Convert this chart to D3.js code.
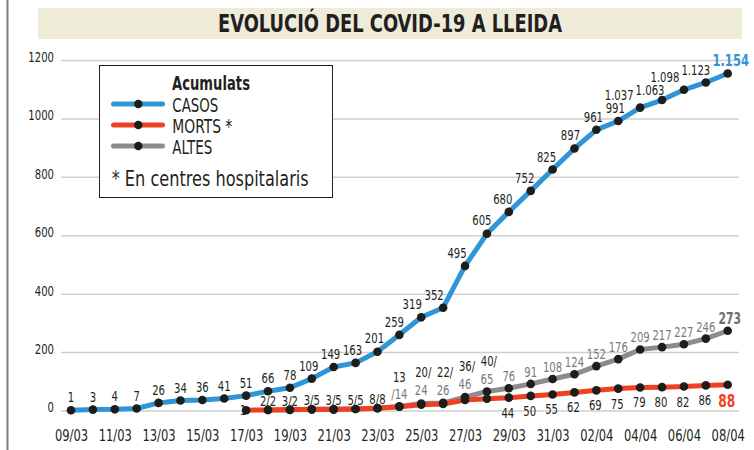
<!DOCTYPE html>
<meta charset="utf-8">
<style>
body { margin: 0; background: #fff; }
svg text {
  font-family: "Liberation Sans Narrow", "DejaVu Sans Condensed", "Arial Narrow", sans-serif;
  fill: #231f20;
}
.grid line { stroke: #cfcfcf; stroke-width: 1.5; }
.series { fill: none; stroke-width: 5; stroke-linejoin: round; stroke-linecap: round; }
</style>
<body>
<script src="https://cdn.jsdelivr.net/npm/d3@7"></script>
<script>

// dates 09/03 .. 08/04
var dates = ["09/03","10/03","11/03","12/03","13/03","14/03","15/03","16/03","17/03","18/03",
             "19/03","20/03","21/03","22/03","23/03","24/03","25/03","26/03","27/03","28/03",
             "29/03","30/03","31/03","01/04","02/04","03/04","04/04","05/04","06/04","07/04","08/04"];

var casos = [1, 3, 4, 7, 26, 34, 36, 41, 51, 66,
             78, 109, 149, 163, 201, 259, 319, 352, 495, 605,
             680, 752, 825, 897, 961, 991, 1037, 1063, 1098, 1123, 1154];

// morts (en centres hospitalaris), from 17/03
var morts = [null, null, null, null, null, null, null, null, 1, 2,
             3, 3, 3, 5, 8, 13, 20, 22, 36, 40,
             44, 50, 55, 62, 69, 75, 79, 80, 82, 86, 88];

// altes, from 18/03
var altes = [null, null, null, null, null, null, null, null, null, 2,
             2, 5, 5, 5, 8, 14, 24, 26, 46, 65,
             76, 91, 108, 124, 152, 176, 209, 217, 227, 246, 273];

var yTicks = [0, 200, 400, 600, 800, 1000, 1200];
var xTicks = dates.filter(function(d, i) { return i % 2 == 0; });

var title = "EVOLUCIÓ DEL COVID-19 A LLEIDA";
var legendTitle = "Acumulats";
var legendItems = ["CASOS", "MORTS *", "ALTES"];
var legendNote = "* En centres hospitalaris";

var colBlue = "#2f95d6", colRed = "#ee4124", colGray = "#8c8c8c",
    colDot = "#1d1d1b", colText = "#231f20", colGrayText = "#7a7a7a";

var width = 754, height = 450,
    squeeze = 0.8,   // the original uses a condensed face
    labelSize = 14;

var svg = d3.select("body").append("svg")
    .attr("width", width)
    .attr("height", height);

var x = d3.scalePoint().domain(dates).range([71, 727.7]);
var y = d3.scaleLinear().domain([0, 1200]).range([410.5, 60]);

var fmt = d3.formatLocale({decimal: ",", thousands: ".", grouping: [3], currency: ["", "€"]}).format(",d");

// left frame line
svg.append("line")
    .attr("x1", 7.5).attr("x2", 7.5).attr("y1", 0).attr("y2", height)
    .attr("stroke", "#7d7d7d").attr("stroke-width", 2);

// title banner
svg.append("rect")
    .attr("x", 38).attr("y", 8).attr("width", 704).attr("height", 31)
    .attr("fill", "#eeebd9");
svg.append("text")
    .attr("x", 390).attr("y", 32)
    .attr("text-anchor", "middle")
    .attr("font-weight", "bold")
    .attr("font-size", 24)
    .attr("textLength", 344)
    .attr("lengthAdjust", "spacingAndGlyphs")
    .text(title);

// y axis + grid
var yAxis = svg.append("g")
    .attr("class", "grid")
    .attr("transform", "translate(61,0)")
    .call(d3.axisLeft(y).tickValues(yTicks).tickSize(-(739 - 61)).tickPadding(7).tickFormat(d3.format("d")));
yAxis.select(".domain").remove();
yAxis.selectAll("text")
    .attr("y", -3)
    .attr("font-size", 14)
    .style("fill", colText);

// x axis
var xAxis = svg.append("g")
    .attr("transform", "translate(0,430)")
    .call(d3.axisBottom(x).tickValues(xTicks).tickSize(0).tickPadding(0));
xAxis.select(".domain").remove();
xAxis.selectAll("text")
    .attr("font-size", 16)
    .style("fill", colText);

// series
function points(vals) {
  return dates.map(function(d, i) { return {date: d, v: vals[i], i: i}; })
              .filter(function(p) { return p.v != null; });
}

var line = d3.line()
    .x(function(p) { return x(p.date); })
    .y(function(p) { return y(p.v); });

var series = [
  {name: "altes", vals: altes, color: colGray},
  {name: "morts", vals: morts, color: colRed},
  {name: "casos", vals: casos, color: colBlue}
];

svg.selectAll("path.series")
    .data(series)
  .enter().append("path")
    .attr("class", "series")
    .attr("stroke", function(s) { return s.color; })
    .attr("d", function(s) { return line(points(s.vals)); });

var labels = svg.append("g");
var dots = svg.append("g");

series.forEach(function(s) {
  dots.selectAll(null)
      .data(points(s.vals))
    .enter().append("circle")
      .attr("cx", function(p) { return x(p.date); })
      .attr("cy", function(p) { return y(p.v); })
      .attr("r", 4.3)
      .attr("fill", colDot);
});

// casos labels: nearest free spot above / left of the dot
var cpts = casos.map(function(v, i) { return [x(dates[i]), y(v)]; });
var placed = [];

function hits(b) {
  var m = 2.5;
  for (var k = 0; k < cpts.length - 1; k++) {
    var p = cpts[k], q = cpts[k + 1];
    if (Math.max(p[0], q[0]) < b.x0 - m || Math.min(p[0], q[0]) > b.x1 + m) continue;
    for (var s = 0; s <= 24; s++) {
      var xx = p[0] + (q[0] - p[0]) * s / 24, yy = p[1] + (q[1] - p[1]) * s / 24;
      var r = (s == 0 || s == 24) ? 4.5 : m;
      if (xx > b.x0 - r && xx < b.x1 + r && yy > b.y0 - r && yy < b.y1 + r) return true;
    }
  }
  for (var j = 0; j < placed.length; j++) {
    var o = placed[j];
    if (b.x0 < o.x1 + 2 && b.x1 > o.x0 - 2 && b.y0 < o.y1 + 3 && b.y1 > o.y0 - 3) return true;
  }
  return false;
}

var last = dates.length - 1;
var halfH = labelSize * 0.729 / 2;

// the final figure is highlighted and sits to the right
var lastLabel = labels.append("text")
    .attr("text-anchor", "middle")
    .attr("font-size", 16).attr("font-weight", "bold").style("fill", colBlue)
    .attr("x", cpts[last][0] + 3).attr("y", cpts[last][1] - 13 + 6)
    .text(fmt(casos[last]));
(function() {
  var w = lastLabel.node().getComputedTextLength() * squeeze;
  placed.push({x0: cpts[last][0] + 3 - w / 2, x1: cpts[last][0] + 3 + w / 2,
               y0: cpts[last][1] - 19, y1: cpts[last][1] - 7});
})();

// placed from the last point backwards, so the crowded top end gets first pick
d3.range(last - 1, -1, -1).forEach(function(i) {
  var v = casos[i];
  var px = cpts[i][0], py = cpts[i][1];
  var t = labels.append("text")
      .attr("text-anchor", "middle")
      .attr("font-size", labelSize)
      .text(fmt(v));
  var w = t.node().getComputedTextLength() * squeeze;
  var best = null, bestCost = Infinity;
  for (var dx = -Math.ceil(w / 2 + 14); dx <= 4; dx++) {
    for (var dy = -26; dy <= 0; dy++) {
      var cost = (dx < 0 ? -0.6 * dx : 1.5 * dx) + Math.abs(dy + 13);
      if (cost >= bestCost) continue;
      var b = {x0: px + dx - w / 2, x1: px + dx + w / 2, y0: py + dy - halfH, y1: py + dy + halfH};
      if (!hits(b)) { best = b; bestCost = cost; }
    }
  }
  if (!best) best = {x0: px - w / 2, x1: px + w / 2, y0: py - 13 - halfH, y1: py - 13 + halfH};
  placed.push(best);
  t.attr("x", (best.x0 + best.x1) / 2).attr("y", best.y1);
});

// morts / altes labels
dates.forEach(function(d, i) {
  var m = morts[i], a = altes[i];
  if (m == null) return;
  var px = x(d), pm = y(m);
  function txt(s, tx, ty) {
    return labels.append("text").attr("text-anchor", "middle").attr("font-size", labelSize)
        .attr("x", tx).attr("y", ty).text(s);
  }
  if (a == null) {
    // first death, tucked behind the dot
    txt(m, px - 3, pm + 5);
    return;
  }
  var pa = y(a);
  var top = Math.min(pm, pa);
  if (i < dates.indexOf("24/03")) {
    txt(m + "/" + a, px, top - 9 + 5);
  } else if (i == dates.indexOf("24/03")) {
    txt(m, px, top - 29 + 5);
    txt("/" + a, px, top - 12 + 5).style("fill", colGrayText);
  } else if (i < dates.indexOf("29/03")) {
    txt(m + "/", px + 2, top - 31 + 5);
    txt(a, px, top - 13 + 5).style("fill", colGrayText);
  } else {
    var ta = txt(a, px, pa - 12 + 5).style("fill", colGrayText);
    var tm = txt(m, px - 1, pm + 15 + 5);
    if (i == last) {
      ta.attr("font-weight", "bold").attr("font-size", 15).attr("x", px + 2).style("fill", "#6e6e6e");
      tm.attr("font-weight", "bold").attr("font-size", 17).style("fill", colRed).attr("y", pm + 16 + 6);
    }
  }
});

// legend
var lg = svg.append("g");
lg.append("rect")
    .attr("x", 99.5).attr("y", 65.5).attr("width", 233).attr("height", 132)
    .attr("fill", "#fff").attr("stroke", colText).attr("stroke-width", 1);
lg.append("text")
    .attr("x", 172).attr("y", 89.5)
    .attr("font-size", 20).attr("font-weight", "bold")
    .attr("textLength", 78).attr("lengthAdjust", "spacingAndGlyphs")
    .text(legendTitle);

var itemWidths = [46, 60, 40];
var lgColors = [colBlue, colRed, colGray];
legendItems.forEach(function(name, k) {
  var cy = 104 + k * 21;
  lg.append("line")
      .attr("x1", 113.5).attr("x2", 162.5).attr("y1", cy).attr("y2", cy)
      .attr("stroke", lgColors[k]).attr("stroke-width", 5).attr("stroke-linecap", "round");
  lg.append("circle").attr("cx", 138.3).attr("cy", cy).attr("r", 4.2).attr("fill", colDot);
  lg.append("text")
      .attr("x", 172.3).attr("y", cy + 7.5)
      .attr("font-size", 20)
      .attr("textLength", itemWidths[k]).attr("lengthAdjust", "spacingAndGlyphs")
      .text(name);
});
lg.append("text")
    .attr("x", 111.7).attr("y", 185.5)
    .attr("font-size", 22)
    .attr("textLength", 197).attr("lengthAdjust", "spacingAndGlyphs")
    .text(legendNote);

// squeeze every remaining label to a condensed width
svg.selectAll("text").each(function() {
  if (this.hasAttribute("textLength")) return;
  var w = this.getComputedTextLength();
  this.setAttribute("textLength", w * squeeze);
  this.setAttribute("lengthAdjust", "spacingAndGlyphs");
});

</script>
</body>
